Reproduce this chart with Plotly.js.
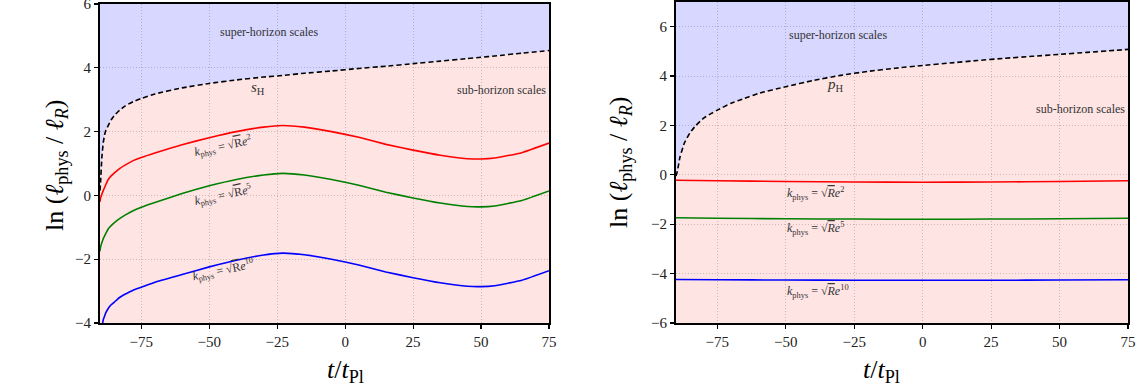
<!DOCTYPE html>
<html><head><meta charset="utf-8">
<script src="https://cdn.plot.ly/plotly-3.0.1.min.js"></script>
<style>body{margin:0;background:#fff}#chart{width:1141px;height:390px}</style>
</head><body><div id="chart"></div>
<script>
// ---- Left panel data ----
const tLeft = [-90.2,-90,-89.5,-89,-88.5,-88,-87,-86,-85,-83,-81,-78,-75,-70,-60,-50,-40,-30,-23,-15,-5,5,15,25,35,45,50,55,65,75];
const horizonLeft = [0.15,0.4,1.2,1.65,1.9,2.05,2.22,2.38,2.5,2.67,2.8,2.94,3.04,3.18,3.37,3.51,3.62,3.71,3.76,3.83,3.9,3.98,4.05,4.13,4.21,4.29,4.33,4.37,4.46,4.54];
const redLeft   = [-0.2,-0.08,0.04,0.15,0.25,0.35,0.52,0.62,0.7,0.84,0.95,1.09,1.19,1.33,1.59,1.81,2.0,2.14,2.19,2.14,2.0,1.82,1.6,1.42,1.26,1.15,1.14,1.17,1.34,1.64];
const greenLeft = [-1.75,-1.62,-1.48,-1.36,-1.27,-1.18,-1.03,-0.94,-0.86,-0.73,-0.62,-0.48,-0.37,-0.22,0.06,0.3,0.5,0.64,0.69,0.64,0.5,0.32,0.1,-0.08,-0.24,-0.35,-0.36,-0.33,-0.16,0.14];
const blueLeft  = [-4.6,-4.4,-4.15,-3.9,-3.78,-3.67,-3.52,-3.42,-3.35,-3.2,-3.1,-2.97,-2.88,-2.72,-2.48,-2.24,-2.03,-1.87,-1.81,-1.86,-2.0,-2.18,-2.4,-2.58,-2.74,-2.85,-2.86,-2.83,-2.66,-2.36];
const yRangeLeft = [-4, 6];
const xRangeLeft = [-90.2, 75];

// ---- Right panel data ----
const tRight = [-90.1,-89.6,-88.6,-87,-85,-83,-80,-77,-75,-70,-65,-60,-50,-40,-30,-20,-10,0,10,20,30,40,50,60,70,75];
const horizonRight = [-0.05,0.15,0.74,1.3,1.7,1.98,2.3,2.5,2.62,2.9,3.1,3.3,3.57,3.82,4.03,4.19,4.32,4.43,4.53,4.63,4.72,4.8,4.88,4.96,5.04,5.08];
const tFlat = [-90.1,-75,-50,-25,0,25,50,75];
const redRight   = [-0.22,-0.24,-0.27,-0.29,-0.3,-0.29,-0.27,-0.24];
const greenRight = [-1.74,-1.76,-1.78,-1.79,-1.8,-1.79,-1.78,-1.76];
const blueRight  = [-4.24,-4.25,-4.26,-4.27,-4.27,-4.27,-4.26,-4.25];
const yRangeRight = [-6, 7];
const xRangeRight = [-90.1, 75];

const xTicks = [-75,-50,-25,0,25,50,75];
const yTicksLeft = [-4,-2,0,2,4,6];
const yTicksRight = [-6,-4,-2,0,2,4,6];

const PINK = 'rgba(255,0,0,0.105)';
const BLUE = 'rgba(0,0,255,0.155)';
const SERIF = 'Liberation Serif, DejaVu Serif, serif';
const TXT = '#333';

function panel(t, hor, yr, xa, ya) {
  const bottom = t.map(() => yr[0]);
  const top = t.map(() => yr[1]);
  return [
    {x: t, y: bottom, xaxis: xa, yaxis: ya, mode: 'lines', line: {width: 0}, hoverinfo: 'skip'},
    {x: t, y: hor, xaxis: xa, yaxis: ya, mode: 'lines', fill: 'tonexty', fillcolor: PINK, line: {width: 0, shape: 'spline', smoothing: 0.4}, hoverinfo: 'skip'},
    {x: t, y: top, xaxis: xa, yaxis: ya, mode: 'lines', fill: 'tonexty', fillcolor: BLUE, line: {width: 0}, hoverinfo: 'skip'}
  ];
}
function line(x, y, color, xa, ya, dash) {
  return {x: x, y: y, xaxis: xa, yaxis: ya, mode: 'lines',
    line: {color: color, width: 1.6, shape: 'spline', smoothing: 0.4, dash: dash || 'solid'}};
}

const traces = [].concat(
  panel(tLeft, horizonLeft, yRangeLeft, 'x', 'y'),
  panel(tRight, horizonRight, yRangeRight, 'x2', 'y2'),
  [
    line(tLeft, redLeft, '#ff0000', 'x', 'y'),
    line(tLeft, greenLeft, '#008000', 'x', 'y'),
    line(tLeft, blueLeft, '#0000ff', 'x', 'y'),
    line(tLeft, horizonLeft, '#000000', 'x', 'y', '5px,3px'),
    line(tFlat, redRight, '#ff0000', 'x2', 'y2'),
    line(tFlat, greenRight, '#008000', 'x2', 'y2'),
    line(tFlat, blueRight, '#0000ff', 'x2', 'y2'),
    line(tRight, horizonRight, '#000000', 'x2', 'y2', '5px,3px')
  ]
);

const common = {ticks: 'outside', ticklen: 4, tickwidth: 1.2, tickcolor: '#000',
  showline: true, linewidth: 2, linecolor: '#000', mirror: true,
  showgrid: true, gridcolor: '#cccccc', griddash: '1px,2px', gridwidth: 1, zeroline: false,
  ticklabeloverflow: 'allow',
  tickfont: {family: SERIF, size: 15, color: '#222'}, fixedrange: true};
function xax(domain, range) {
  return Object.assign({domain: domain, range: range, tickvals: xTicks}, common);
}
function yax(domain, range, ticks, anchor) {
  return Object.assign({domain: domain, range: range, tickvals: ticks, anchor: anchor}, common);
}

const kfont = {family: SERIF, size: 12, color: TXT};
function ann(text, x, y, xref, yref, opts) {
  return Object.assign({text: text, x: x, y: y, xref: xref, yref: yref, showarrow: false,
    font: {family: SERIF, size: 12, color: TXT}}, opts || {});
}
const sqrtR = '√<span style="text-decoration:overline">R</span>';
const sqrtRi = '√<span style="text-decoration:overline"><i>R</i></span>';
const annotations = [
  ann('super-horizon scales', -28, 5.12, 'x', 'y'),
  ann('<i>s</i><sub>H</sub>', -32, 3.37, 'x', 'y', {font: {family: SERIF, size: 15, color: TXT}}),
  ann('sub-horizon scales', 74.5, 3.3, 'x', 'y', {xanchor: 'right'}),
  ann('<i>k</i><sub>phys</sub> = ' + sqrtR + '<i>e</i><sup>2</sup>', -45, 1.53, 'x', 'y', {textangle: -12, font: kfont}),
  ann('<i>k</i><sub>phys</sub> = ' + sqrtR + '<i>e</i><sup>5</sup>', -45, 0.01, 'x', 'y', {textangle: -12, font: kfont}),
  ann('<i>k</i><sub>phys</sub> = ' + sqrtR + '<i>e</i><sup>10</sup>', -45, -2.34, 'x', 'y', {textangle: -12, font: kfont}),

  ann('super-horizon scales', -31, 5.66, 'x2', 'y2'),
  ann('<i>p</i><sub>H</sub>', -32, 3.63, 'x2', 'y2', {font: {family: SERIF, size: 15, color: TXT}}),
  ann('sub-horizon scales', 74.5, 2.66, 'x2', 'y2', {xanchor: 'right'}),
  ann('<i>k</i><sub>phys</sub> = ' + sqrtRi + '<i>e</i><sup>2</sup>', -50.3, -0.75, 'x2', 'y2', {xanchor: 'left', font: kfont}),
  ann('<i>k</i><sub>phys</sub> = ' + sqrtRi + '<i>e</i><sup>5</sup>', -50.3, -2.17, 'x2', 'y2', {xanchor: 'left', font: kfont}),
  ann('<i>k</i><sub>phys</sub> = ' + sqrtRi + '<i>e</i><sup>10</sup>', -50.3, -4.74, 'x2', 'y2', {xanchor: 'left', font: kfont}),

  // axis titles (pixel positions, converted below)
  ann('ln (<i>ℓ</i><sub>phys</sub> / <i>ℓ</i><sub><i>R</i></sub>)', 38, 166, 'paper', 'paper',
      {textangle: -90, font: {family: SERIF, size: 26, color: '#000'}}),
  ann('ln (<i>ℓ</i><sub>phys</sub> / <i>ℓ</i><sub><i>R</i></sub>)', 620, 163, 'paper', 'paper',
      {textangle: -90, font: {family: SERIF, size: 26, color: '#000'}}),
  ann('<i>t</i>/<i>t</i><sub>Pl</sub>', 325, 389, 'paper', 'paper', {yanchor: 'bottom', font: {family: SERIF, size: 26, color: '#000'}}),
  ann('<i>t</i>/<i>t</i><sub>Pl</sub>', 902, 389, 'paper', 'paper', {yanchor: 'bottom', font: {family: SERIF, size: 26, color: '#000'}})
];

const W = 1141, H = 390, M = {l: 100, r: 13, t: 2, b: 67};
const pw = W - M.l - M.r, ph = H - M.t - M.b;
annotations.forEach(a => {
  if (a.xref === 'paper' && a.yref === 'paper') {
    a.x = (a.x - M.l) / pw;
    a.y = (H - M.b - a.y) / ph;
  }
});

const layout = {
  width: W, height: H, margin: M, showlegend: false,
  paper_bgcolor: '#fff', plot_bgcolor: '#fff',
  xaxis: xax([0, 449 / pw], xRangeLeft),
  yaxis: yax([0, (323 - 4) / ph], yRangeLeft, yTicksLeft, 'x'),
  xaxis2: Object.assign(xax([(676 - M.l) / pw, 1], xRangeRight), {anchor: 'y2'}),
  yaxis2: yax([0, 1], yRangeRight, yTicksRight, 'x2'),
  annotations: annotations
};

Plotly.newPlot('chart', traces, layout, {displayModeBar: false, staticPlot: true});
</script></body></html>
